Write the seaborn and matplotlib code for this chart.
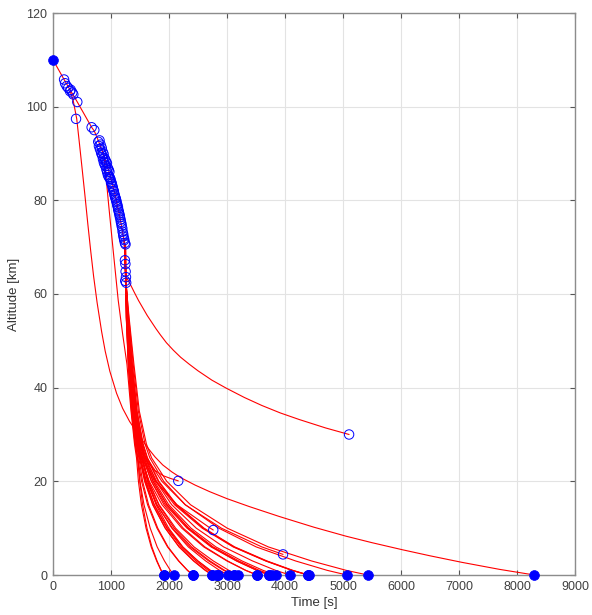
import numpy as np
import pandas as pd
import matplotlib
matplotlib.use("Agg")
import matplotlib.pyplot as plt
import seaborn as sns

# ---------------------------------------------------------------------------
# Parent body: trajectory line and breakup events (open circles)
# ---------------------------------------------------------------------------
main_t = [0, 191, 294, 419, 666, 712, 780, 850, 950, 1050, 1150, 1200, 1235, 1248, 1258, 1265]
main_h = [110.0, 105.8, 103.6, 101.0, 95.6, 94.8, 92.8, 90.5, 86.8, 82.3, 76.6, 73.2, 70.5, 66.0, 63.0, 62.0]

breakup_t = [191, 208, 235, 262, 294, 305, 333, 350, 419, 397, 666, 712,
             780, 802, 792, 820, 810, 840, 830, 855, 847, 872, 862, 888, 877, 903,
             892, 916, 907, 930, 920, 945, 934, 960, 947, 972, 962, 985, 977, 1000,
             990, 1015, 1004, 1030, 1020, 1045, 1034, 1060, 1050, 1075, 1064, 1090,
             1080, 1105, 1094, 1120, 1110, 1135, 1124, 1150, 1140, 1165, 1154, 1180,
             1170, 1195, 1184, 1210, 1200, 1225, 1214, 1240, 1228, 1250, 1240, 1248,
             1252, 1258, 1262, 1245]
breakup_h = [105.8, 105.0, 104.4, 104.0, 103.3, 103.6, 103.0, 102.6, 101.0, 97.4, 95.6, 95.0,
             92.5, 92.8, 91.6, 91.9, 90.9, 91.2, 90.1, 90.4, 89.6, 89.9, 88.8, 89.0, 88.1, 88.6,
             87.6, 88.2, 87.3, 87.9, 86.6, 86.9, 86.0, 86.5, 85.4, 86.1, 85.0, 84.6, 84.9, 83.8,
             84.5, 83.5, 83.9, 82.8, 83.1, 82.0, 82.4, 81.3, 81.9, 80.6, 81.0, 80.0,
             80.4, 79.2, 79.7, 78.5, 78.9, 77.6, 78.0, 76.8, 77.2, 75.9, 76.4, 75.0,
             75.4, 74.0, 74.5, 72.8, 73.3, 71.8, 72.3, 70.9, 71.5, 70.6, 67.2, 66.4,
             64.8, 63.6, 62.4, 62.8]

# ---------------------------------------------------------------------------
# Individual fragment tracks
# ---------------------------------------------------------------------------
# early light fragment that drifts far downrange
branch_t = [294, 350, 409, 450, 500, 551, 600, 650, 700, 760, 838, 900, 980, 1096,
            1200, 1320, 1438, 1550, 1650, 1760, 1892, 2050, 2200, 2450, 2700, 3000,
            3387, 3900, 4500, 5048, 5500, 6021, 6500, 7051, 7700, 8300]
branch_h = [103.4, 101.2, 97.4, 92.8, 87.0, 81.0, 75.0, 69.2, 63.8, 58.2, 52.0, 47.8, 43.5, 38.8,
            35.6, 32.8, 30.6, 28.6, 26.9, 25.2, 23.5, 22.0, 20.8, 19.2, 17.8, 16.3,
            14.6, 12.5, 10.2, 8.3, 6.9, 5.4, 4.1, 2.7, 1.2, 0.0]

# fragment still at high altitude at the end of the run
arc_t = [1262, 1290, 1323, 1360, 1400, 1475, 1550, 1625, 1700, 1775, 1850, 1955, 2075,
         2200, 2350, 2500, 2740, 2986, 3300, 3600, 3920, 4245, 4700, 5105]
arc_h = [63.6, 63.0, 62.3, 61.4, 60.4, 58.6, 57.0, 55.4, 54.0, 52.6, 51.3, 49.6, 48.0,
         46.5, 45.0, 43.6, 41.6, 39.9, 37.9, 36.2, 34.6, 33.2, 31.4, 30.0]

# slow fragment stopping near 20 km
drift_t = [1262, 1295, 1350, 1430, 1500, 1570, 1650, 1760, 1900, 2030, 2160]
drift_h = [62.4, 55.0, 45.0, 35.0, 28.5, 25.8, 23.8, 22.3, 21.2, 20.6, 20.1]

# fastest fragment, leaving the parent track early
fast_t = [880, 960, 1040, 1124, 1200, 1275, 1345, 1405, 1440, 1473, 1524, 1604, 1693, 1787, 1862, 1909]
fast_h = [89.5, 79.0, 69.0, 58.7, 51.5, 45.0, 35.0, 28.0, 25.0, 20.0, 15.0, 10.0, 6.0, 3.0, 1.0, 0.0]

# main fragment fan: time [s] at which each track crosses these altitudes [km]
alt_levels = [62, 55, 45, 35, 28, 25, 20, 15, 10, 6, 3, 1]
fan_cross_t = [
    [1258, 1263, 1297, 1353, 1414, 1455, 1499, 1569, 1676, 1796, 1922, 2023],
    [1252, 1268, 1307, 1367, 1434, 1480, 1545, 1648, 1806, 1983, 2170, 2319],
    [1260, 1272, 1315, 1378, 1450, 1500, 1587, 1724, 1936, 2173, 2422, 2621],
    [1255, 1274, 1319, 1383, 1458, 1510, 1600, 1743, 1962, 2208, 2466, 2673],
    [1263, 1273, 1317, 1380, 1454, 1505, 1599, 1747, 1975, 2231, 2500, 2715],
    [1257, 1277, 1325, 1391, 1470, 1525, 1630, 1794, 2049, 2333, 2632, 2871],
    [1261, 1279, 1329, 1397, 1478, 1535, 1646, 1820, 2089, 2389, 2706, 2959],
    [1254, 1278, 1327, 1394, 1474, 1530, 1647, 1830, 2114, 2431, 2764, 3031],
    [1259, 1284, 1339, 1411, 1498, 1560, 1697, 1913, 2246, 2618, 3010, 3323],
    [1262, 1287, 1345, 1419, 1510, 1575, 1726, 1963, 2329, 2739, 3170, 3515],
    [1256, 1286, 1343, 1416, 1506, 1570, 1724, 1967, 2342, 2762, 3203, 3556],
    [1264, 1290, 1351, 1427, 1522, 1590, 1748, 1996, 2379, 2808, 3259, 3620],
    [1258, 1292, 1355, 1433, 1530, 1600, 1774, 2047, 2470, 2942, 3440, 3837],
    [1261, 1296, 1363, 1444, 1546, 1620, 1814, 2120, 2591, 3119, 3674, 4118],
    [1255, 1298, 1367, 1449, 1554, 1630, 1825, 2131, 2604, 3132, 3689, 4134],
    [1263, 1306, 1383, 1471, 1586, 1670, 1908, 2281, 2858, 3503, 4182, 4726],
    [1259, 1312, 1395, 1488, 1610, 1700, 1961, 2371, 3004, 3712, 4457, 5053],
    [1252, 1270, 1311, 1372, 1442, 1490, 1579, 1719, 1935, 2176, 2430, 2633],
    [1264, 1281, 1333, 1402, 1486, 1545, 1635, 1776, 1995, 2239, 2496, 2702],
    [1253, 1272, 1315, 1378, 1450, 1500, 1612, 1788, 2060, 2364, 2684, 2940],
    [1261, 1281, 1333, 1402, 1486, 1545, 1698, 1938, 2310, 2725, 3162, 3512],
    [1256, 1265, 1301, 1358, 1422, 1465, 1496, 1545, 1620, 1705, 1794, 1865],
    [1260, 1290, 1351, 1427, 1522, 1590, 1786, 2095, 2572, 3105, 3666, 4115],
    [1258, 1264, 1299, 1356, 1418, 1460, 1527, 1631, 1793, 1974, 2164, 2317],
    [1254, 1276, 1323, 1388, 1466, 1520, 1660, 1880, 2220, 2599, 2999, 3319],
    [1260, 1278, 1327, 1394, 1474, 1530, 1766, 2138, 2712, np.nan, np.nan, np.nan],
    [1257, 1296, 1363, 1444, 1546, 1620, 1877, 2280, 2903, 3600, np.nan, np.nan],
]
# final state of each fan track (h = 0 means ground impact)
fan_end_t = [2086, 2412, 2746, 2802, 2849, 3021, 3117, 3198, 3519, 3730, 3777, 3845,
             4086, 4395, 4412, 5065, 5426, 2746, 2849, 3117, 3730, 1909, 4395, 2412,
             3519, 2763, 3966]
fan_end_h = [0, 0, 0, 0, 0, 0, 0, 0, 0, 0, 0, 0,
             0, 0, 0, 0, 0, 0, 0, 0, 0, 0, 0, 0,
             0, 9.6, 4.4]

# ---------------------------------------------------------------------------
# Assemble tracks in long format
# ---------------------------------------------------------------------------
records = []


def add_track(name, ts, hs):
    for t, h in zip(ts, hs):
        if not np.isnan(t):
            records.append((name, t, h))


add_track("parent", main_t, main_h)
add_track("branch", branch_t, branch_h)
add_track("arc", arc_t, arc_h)
add_track("drift", drift_t, drift_h)
add_track("fast", fast_t, fast_h)

n_late = 8  # fan tracks spawn from the last breakup events on the parent track
for i, row in enumerate(fan_cross_t):
    k = len(breakup_t) - 1 - (i % n_late)
    ts = [breakup_t[k]] + list(row) + [fan_end_t[i]]
    hs = [breakup_h[k]] + list(alt_levels) + [fan_end_h[i]]
    add_track(f"frag{i:02d}", ts, hs)

tracks = pd.DataFrame(records, columns=["track", "time", "alt"])

ground_t = [t for t, h in zip(fan_end_t, fan_end_h) if h == 0] + [fast_t[-1], branch_t[-1]]
ground_h = [0.0] * len(ground_t)
airborne_t = [t for t, h in zip(fan_end_t, fan_end_h) if h > 0] + [arc_t[-1], drift_t[-1]]
airborne_h = [h for h in fan_end_h if h > 0] + [arc_h[-1], drift_h[-1]]

# ---------------------------------------------------------------------------
# Plot
# ---------------------------------------------------------------------------
sns.set_theme(style="ticks")
plt.rcParams["font.family"] = ["Liberation Sans", "DejaVu Sans"]

fig = plt.figure(figsize=(5.92, 6.15), dpi=100)
ax = fig.add_axes([53 / 592, 1 - 575 / 615, (575 - 53) / 592, (575 - 13) / 615])

sns.lineplot(data=tracks, x="time", y="alt", units="track", estimator=None,
             sort=False, color="#ff0000", linewidth=0.8, legend=False, ax=ax)

sns.scatterplot(x=breakup_t, y=breakup_h, marker="o", s=46, facecolor="none",
                edgecolor="#0000ff", linewidth=0.7, ax=ax, zorder=4, clip_on=False)
sns.scatterplot(x=airborne_t, y=airborne_h, marker="o", s=46, facecolor="none",
                edgecolor="#0000ff", linewidth=0.7, ax=ax, zorder=4, clip_on=False)
sns.scatterplot(x=ground_t + [main_t[0]], y=ground_h + [main_h[0]], marker="o", s=50,
                color="#0000ff", edgecolor="#0000ff", linewidth=0.5, ax=ax,
                zorder=5, clip_on=False)

ax.set_xlim(0, 9000)
ax.set_ylim(0, 120)
ax.set_xticks(np.arange(0, 9001, 1000))
ax.set_yticks(np.arange(0, 121, 20))

ax.grid(True, color="#e3e3e3", linewidth=0.8)
ax.set_axisbelow(True)
for side in ["left", "right", "top", "bottom"]:
    ax.spines[side].set_visible(True)
    ax.spines[side].set_color("#8c8c8c")
    ax.spines[side].set_linewidth(1.0)
ax.tick_params(direction="in", length=3.5, width=0.8, top=True, right=True,
               color="#555555", labelcolor="#404040", labelsize=9, pad=4)

ax.set_xlabel("Time [s]", fontsize=9.5, color="#333333", labelpad=3)
ax.set_ylabel("Altitude [km]", fontsize=9.5, color="#333333", labelpad=5)

fig.savefig("out.png", dpi=100, facecolor="white")
